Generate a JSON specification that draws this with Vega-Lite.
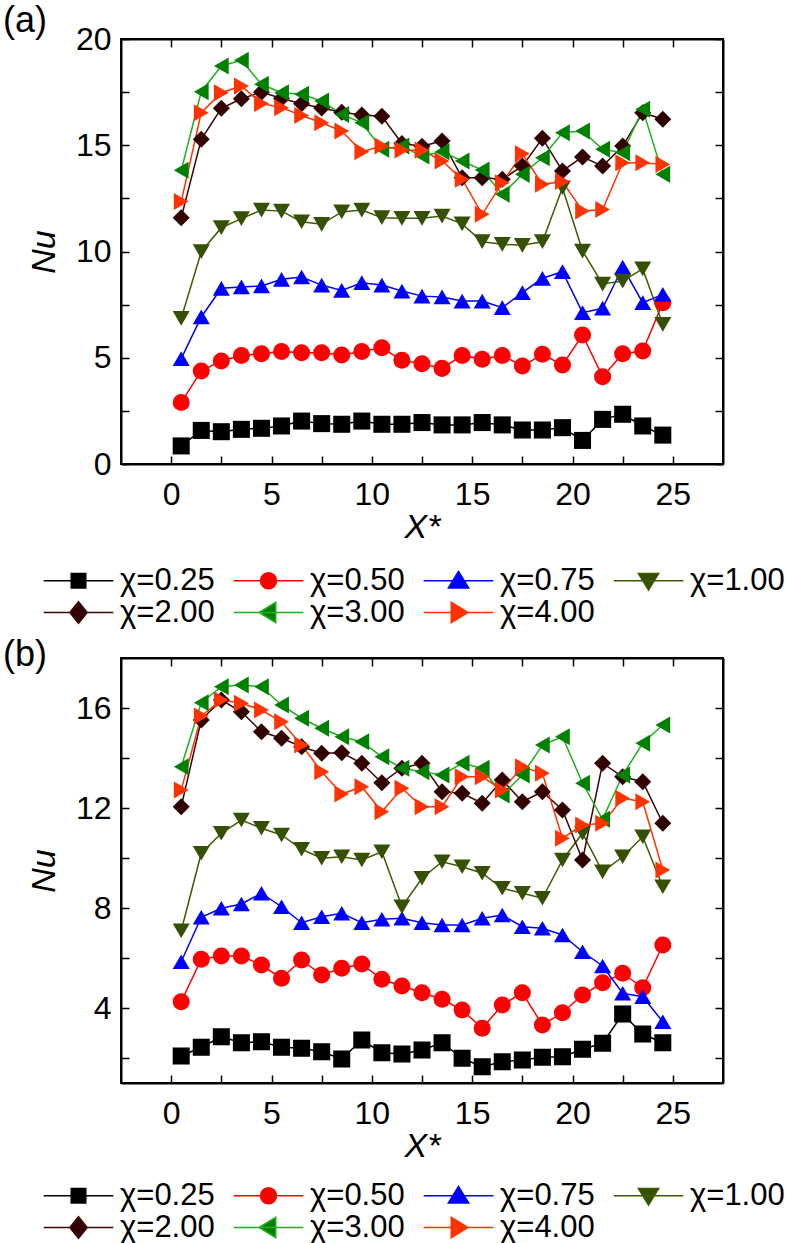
{
"$schema": "https://vega.github.io/schema/vega-lite/v6.json",
"background": "white",
"padding": {"left": 2, "top": 2, "right": 0, "bottom": 0},
"spacing": 7,
"config": {"view": {"stroke": "black", "strokeWidth": 2}, "font": "Liberation Sans"},
"datasets": {
"a": [
{"chi":"0.25","x":0.5,"nu":0.85},{"chi":"0.25","x":1.5,"nu":1.58},{"chi":"0.25","x":2.5,"nu":1.52},{"chi":"0.25","x":3.5,"nu":1.63},{"chi":"0.25","x":4.5,"nu":1.68},{"chi":"0.25","x":5.5,"nu":1.79},{"chi":"0.25","x":6.5,"nu":2.02},{"chi":"0.25","x":7.5,"nu":1.90},{"chi":"0.25","x":8.5,"nu":1.87},{"chi":"0.25","x":9.5,"nu":2.02},{"chi":"0.25","x":10.5,"nu":1.87},{"chi":"0.25","x":11.5,"nu":1.87},{"chi":"0.25","x":12.5,"nu":1.95},{"chi":"0.25","x":13.5,"nu":1.84},{"chi":"0.25","x":14.5,"nu":1.84},{"chi":"0.25","x":15.5,"nu":1.95},{"chi":"0.25","x":16.5,"nu":1.84},{"chi":"0.25","x":17.5,"nu":1.60},{"chi":"0.25","x":18.5,"nu":1.60},{"chi":"0.25","x":19.5,"nu":1.71},{"chi":"0.25","x":20.5,"nu":1.11},{"chi":"0.25","x":21.5,"nu":2.10},{"chi":"0.25","x":22.5,"nu":2.34},{"chi":"0.25","x":23.5,"nu":1.79},{"chi":"0.25","x":24.5,"nu":1.36},
{"chi":"0.50","x":0.5,"nu":2.89},{"chi":"0.50","x":1.5,"nu":4.38},{"chi":"0.50","x":2.5,"nu":4.85},{"chi":"0.50","x":3.5,"nu":5.11},{"chi":"0.50","x":4.5,"nu":5.19},{"chi":"0.50","x":5.5,"nu":5.29},{"chi":"0.50","x":6.5,"nu":5.24},{"chi":"0.50","x":7.5,"nu":5.24},{"chi":"0.50","x":8.5,"nu":5.13},{"chi":"0.50","x":9.5,"nu":5.29},{"chi":"0.50","x":10.5,"nu":5.47},{"chi":"0.50","x":11.5,"nu":4.88},{"chi":"0.50","x":12.5,"nu":4.72},{"chi":"0.50","x":13.5,"nu":4.50},{"chi":"0.50","x":14.5,"nu":5.11},{"chi":"0.50","x":15.5,"nu":4.93},{"chi":"0.50","x":16.5,"nu":5.11},{"chi":"0.50","x":17.5,"nu":4.61},{"chi":"0.50","x":18.5,"nu":5.16},{"chi":"0.50","x":19.5,"nu":4.66},{"chi":"0.50","x":20.5,"nu":6.07},{"chi":"0.50","x":21.5,"nu":4.11},{"chi":"0.50","x":22.5,"nu":5.19},{"chi":"0.50","x":23.5,"nu":5.32},{"chi":"0.50","x":24.5,"nu":7.59},
{"chi":"0.75","x":0.5,"nu":4.96},{"chi":"0.75","x":1.5,"nu":6.92},{"chi":"0.75","x":2.5,"nu":8.27},{"chi":"0.75","x":3.5,"nu":8.33},{"chi":"0.75","x":4.5,"nu":8.38},{"chi":"0.75","x":5.5,"nu":8.69},{"chi":"0.75","x":6.5,"nu":8.80},{"chi":"0.75","x":7.5,"nu":8.42},{"chi":"0.75","x":8.5,"nu":8.17},{"chi":"0.75","x":9.5,"nu":8.53},{"chi":"0.75","x":10.5,"nu":8.42},{"chi":"0.75","x":11.5,"nu":8.14},{"chi":"0.75","x":12.5,"nu":7.90},{"chi":"0.75","x":13.5,"nu":7.86},{"chi":"0.75","x":14.5,"nu":7.67},{"chi":"0.75","x":15.5,"nu":7.67},{"chi":"0.75","x":16.5,"nu":7.36},{"chi":"0.75","x":17.5,"nu":8.06},{"chi":"0.75","x":18.5,"nu":8.74},{"chi":"0.75","x":19.5,"nu":9.05},{"chi":"0.75","x":20.5,"nu":7.12},{"chi":"0.75","x":21.5,"nu":7.33},{"chi":"0.75","x":22.5,"nu":9.27},{"chi":"0.75","x":23.5,"nu":7.59},{"chi":"0.75","x":24.5,"nu":7.98},
{"chi":"1.00","x":0.5,"nu":6.85},{"chi":"1.00","x":1.5,"nu":9.99},{"chi":"1.00","x":2.5,"nu":11.12},{"chi":"1.00","x":3.5,"nu":11.55},{"chi":"1.00","x":4.5,"nu":11.95},{"chi":"1.00","x":5.5,"nu":11.90},{"chi":"1.00","x":6.5,"nu":11.40},{"chi":"1.00","x":7.5,"nu":11.28},{"chi":"1.00","x":8.5,"nu":11.86},{"chi":"1.00","x":9.5,"nu":11.95},{"chi":"1.00","x":10.5,"nu":11.59},{"chi":"1.00","x":11.5,"nu":11.56},{"chi":"1.00","x":12.5,"nu":11.56},{"chi":"1.00","x":13.5,"nu":11.67},{"chi":"1.00","x":14.5,"nu":11.30},{"chi":"1.00","x":15.5,"nu":10.46},{"chi":"1.00","x":16.5,"nu":10.34},{"chi":"1.00","x":17.5,"nu":10.29},{"chi":"1.00","x":18.5,"nu":10.46},{"chi":"1.00","x":19.5,"nu":13.00},{"chi":"1.00","x":20.5,"nu":10.02},{"chi":"1.00","x":21.5,"nu":8.47},{"chi":"1.00","x":22.5,"nu":8.61},{"chi":"1.00","x":23.5,"nu":9.18},{"chi":"1.00","x":24.5,"nu":6.57},
{"chi":"2.00","x":0.5,"nu":11.59},{"chi":"2.00","x":1.5,"nu":15.28},{"chi":"2.00","x":2.5,"nu":16.74},{"chi":"2.00","x":3.5,"nu":17.19},{"chi":"2.00","x":4.5,"nu":17.50},{"chi":"2.00","x":5.5,"nu":17.20},{"chi":"2.00","x":6.5,"nu":16.95},{"chi":"2.00","x":7.5,"nu":16.75},{"chi":"2.00","x":8.5,"nu":16.55},{"chi":"2.00","x":9.5,"nu":16.42},{"chi":"2.00","x":10.5,"nu":16.36},{"chi":"2.00","x":11.5,"nu":15.08},{"chi":"2.00","x":12.5,"nu":14.95},{"chi":"2.00","x":13.5,"nu":15.20},{"chi":"2.00","x":14.5,"nu":13.47},{"chi":"2.00","x":15.5,"nu":13.47},{"chi":"2.00","x":16.5,"nu":13.40},{"chi":"2.00","x":17.5,"nu":14.02},{"chi":"2.00","x":18.5,"nu":15.33},{"chi":"2.00","x":19.5,"nu":13.79},{"chi":"2.00","x":20.5,"nu":14.45},{"chi":"2.00","x":21.5,"nu":14.02},{"chi":"2.00","x":22.5,"nu":14.96},{"chi":"2.00","x":23.5,"nu":16.53},{"chi":"2.00","x":24.5,"nu":16.22},
{"chi":"3.00","x":0.5,"nu":13.82},{"chi":"3.00","x":1.5,"nu":17.52},{"chi":"3.00","x":2.5,"nu":18.73},{"chi":"3.00","x":3.5,"nu":19.00},{"chi":"3.00","x":4.5,"nu":17.87},{"chi":"3.00","x":5.5,"nu":17.47},{"chi":"3.00","x":6.5,"nu":17.40},{"chi":"3.00","x":7.5,"nu":17.08},{"chi":"3.00","x":8.5,"nu":16.45},{"chi":"3.00","x":9.5,"nu":16.06},{"chi":"3.00","x":10.5,"nu":14.81},{"chi":"3.00","x":11.5,"nu":14.96},{"chi":"3.00","x":12.5,"nu":14.49},{"chi":"3.00","x":13.5,"nu":14.70},{"chi":"3.00","x":14.5,"nu":14.26},{"chi":"3.00","x":15.5,"nu":13.83},{"chi":"3.00","x":16.5,"nu":12.69},{"chi":"3.00","x":17.5,"nu":13.63},{"chi":"3.00","x":18.5,"nu":14.41},{"chi":"3.00","x":19.5,"nu":15.59},{"chi":"3.00","x":20.5,"nu":15.67},{"chi":"3.00","x":21.5,"nu":14.81},{"chi":"3.00","x":22.5,"nu":14.65},{"chi":"3.00","x":23.5,"nu":16.69},{"chi":"3.00","x":24.5,"nu":13.63},
{"chi":"4.00","x":0.5,"nu":12.35},{"chi":"4.00","x":1.5,"nu":16.53},{"chi":"4.00","x":2.5,"nu":17.47},{"chi":"4.00","x":3.5,"nu":17.79},{"chi":"4.00","x":4.5,"nu":16.96},{"chi":"4.00","x":5.5,"nu":16.77},{"chi":"4.00","x":6.5,"nu":16.40},{"chi":"4.00","x":7.5,"nu":16.06},{"chi":"4.00","x":8.5,"nu":15.67},{"chi":"4.00","x":9.5,"nu":14.70},{"chi":"4.00","x":10.5,"nu":14.96},{"chi":"4.00","x":11.5,"nu":14.78},{"chi":"4.00","x":12.5,"nu":14.77},{"chi":"4.00","x":13.5,"nu":14.26},{"chi":"4.00","x":14.5,"nu":13.40},{"chi":"4.00","x":15.5,"nu":11.75},{"chi":"4.00","x":16.5,"nu":13.24},{"chi":"4.00","x":17.5,"nu":14.60},{"chi":"4.00","x":18.5,"nu":13.16},{"chi":"4.00","x":19.5,"nu":13.29},{"chi":"4.00","x":20.5,"nu":11.91},{"chi":"4.00","x":21.5,"nu":11.98},{"chi":"4.00","x":22.5,"nu":14.18},{"chi":"4.00","x":23.5,"nu":14.18},{"chi":"4.00","x":24.5,"nu":14.10}
],
"b": [
{"chi":"0.25","x":0.5,"nu":2.08},{"chi":"0.25","x":1.5,"nu":2.43},{"chi":"0.25","x":2.5,"nu":2.85},{"chi":"0.25","x":3.5,"nu":2.61},{"chi":"0.25","x":4.5,"nu":2.65},{"chi":"0.25","x":5.5,"nu":2.43},{"chi":"0.25","x":6.5,"nu":2.39},{"chi":"0.25","x":7.5,"nu":2.25},{"chi":"0.25","x":8.5,"nu":1.96},{"chi":"0.25","x":9.5,"nu":2.72},{"chi":"0.25","x":10.5,"nu":2.21},{"chi":"0.25","x":11.5,"nu":2.16},{"chi":"0.25","x":12.5,"nu":2.32},{"chi":"0.25","x":13.5,"nu":2.61},{"chi":"0.25","x":14.5,"nu":1.99},{"chi":"0.25","x":15.5,"nu":1.65},{"chi":"0.25","x":16.5,"nu":1.85},{"chi":"0.25","x":17.5,"nu":1.92},{"chi":"0.25","x":18.5,"nu":2.03},{"chi":"0.25","x":19.5,"nu":2.05},{"chi":"0.25","x":20.5,"nu":2.35},{"chi":"0.25","x":21.5,"nu":2.59},{"chi":"0.25","x":22.5,"nu":3.76},{"chi":"0.25","x":23.5,"nu":2.96},{"chi":"0.25","x":24.5,"nu":2.61},
{"chi":"0.50","x":0.5,"nu":4.25},{"chi":"0.50","x":1.5,"nu":5.95},{"chi":"0.50","x":2.5,"nu":6.08},{"chi":"0.50","x":3.5,"nu":6.08},{"chi":"0.50","x":4.5,"nu":5.72},{"chi":"0.50","x":5.5,"nu":5.19},{"chi":"0.50","x":6.5,"nu":5.92},{"chi":"0.50","x":7.5,"nu":5.32},{"chi":"0.50","x":8.5,"nu":5.59},{"chi":"0.50","x":9.5,"nu":5.76},{"chi":"0.50","x":10.5,"nu":5.15},{"chi":"0.50","x":11.5,"nu":4.88},{"chi":"0.50","x":12.5,"nu":4.61},{"chi":"0.50","x":13.5,"nu":4.35},{"chi":"0.50","x":14.5,"nu":3.92},{"chi":"0.50","x":15.5,"nu":3.19},{"chi":"0.50","x":16.5,"nu":4.12},{"chi":"0.50","x":17.5,"nu":4.61},{"chi":"0.50","x":18.5,"nu":3.32},{"chi":"0.50","x":19.5,"nu":3.81},{"chi":"0.50","x":20.5,"nu":4.52},{"chi":"0.50","x":21.5,"nu":5.01},{"chi":"0.50","x":22.5,"nu":5.39},{"chi":"0.50","x":23.5,"nu":4.81},{"chi":"0.50","x":24.5,"nu":6.52},
{"chi":"0.75","x":0.5,"nu":5.85},{"chi":"0.75","x":1.5,"nu":7.63},{"chi":"0.75","x":2.5,"nu":7.99},{"chi":"0.75","x":3.5,"nu":8.16},{"chi":"0.75","x":4.5,"nu":8.59},{"chi":"0.75","x":5.5,"nu":8.05},{"chi":"0.75","x":6.5,"nu":7.41},{"chi":"0.75","x":7.5,"nu":7.65},{"chi":"0.75","x":8.5,"nu":7.79},{"chi":"0.75","x":9.5,"nu":7.41},{"chi":"0.75","x":10.5,"nu":7.55},{"chi":"0.75","x":11.5,"nu":7.59},{"chi":"0.75","x":12.5,"nu":7.41},{"chi":"0.75","x":13.5,"nu":7.32},{"chi":"0.75","x":14.5,"nu":7.32},{"chi":"0.75","x":15.5,"nu":7.59},{"chi":"0.75","x":16.5,"nu":7.72},{"chi":"0.75","x":17.5,"nu":7.25},{"chi":"0.75","x":18.5,"nu":7.19},{"chi":"0.75","x":19.5,"nu":6.92},{"chi":"0.75","x":20.5,"nu":6.25},{"chi":"0.75","x":21.5,"nu":5.68},{"chi":"0.75","x":22.5,"nu":4.59},{"chi":"0.75","x":23.5,"nu":4.45},{"chi":"0.75","x":24.5,"nu":3.45},
{"chi":"1.00","x":0.5,"nu":7.09},{"chi":"1.00","x":1.5,"nu":10.19},{"chi":"1.00","x":2.5,"nu":10.99},{"chi":"1.00","x":3.5,"nu":11.52},{"chi":"1.00","x":4.5,"nu":11.19},{"chi":"1.00","x":5.5,"nu":10.92},{"chi":"1.00","x":6.5,"nu":10.35},{"chi":"1.00","x":7.5,"nu":9.99},{"chi":"1.00","x":8.5,"nu":10.05},{"chi":"1.00","x":9.5,"nu":9.92},{"chi":"1.00","x":10.5,"nu":10.25},{"chi":"1.00","x":11.5,"nu":8.05},{"chi":"1.00","x":12.5,"nu":9.19},{"chi":"1.00","x":13.5,"nu":9.85},{"chi":"1.00","x":14.5,"nu":9.65},{"chi":"1.00","x":15.5,"nu":9.39},{"chi":"1.00","x":16.5,"nu":8.79},{"chi":"1.00","x":17.5,"nu":8.59},{"chi":"1.00","x":18.5,"nu":8.39},{"chi":"1.00","x":19.5,"nu":9.92},{"chi":"1.00","x":20.5,"nu":10.99},{"chi":"1.00","x":21.5,"nu":9.45},{"chi":"1.00","x":22.5,"nu":10.05},{"chi":"1.00","x":23.5,"nu":10.85},{"chi":"1.00","x":24.5,"nu":8.85},
{"chi":"2.00","x":0.5,"nu":12.05},{"chi":"2.00","x":1.5,"nu":15.52},{"chi":"2.00","x":2.5,"nu":16.32},{"chi":"2.00","x":3.5,"nu":15.85},{"chi":"2.00","x":4.5,"nu":15.05},{"chi":"2.00","x":5.5,"nu":14.79},{"chi":"2.00","x":6.5,"nu":14.45},{"chi":"2.00","x":7.5,"nu":14.19},{"chi":"2.00","x":8.5,"nu":14.21},{"chi":"2.00","x":9.5,"nu":13.79},{"chi":"2.00","x":10.5,"nu":13.01},{"chi":"2.00","x":11.5,"nu":13.59},{"chi":"2.00","x":12.5,"nu":13.79},{"chi":"2.00","x":13.5,"nu":12.65},{"chi":"2.00","x":14.5,"nu":12.59},{"chi":"2.00","x":15.5,"nu":12.19},{"chi":"2.00","x":16.5,"nu":13.12},{"chi":"2.00","x":17.5,"nu":12.25},{"chi":"2.00","x":18.5,"nu":12.65},{"chi":"2.00","x":19.5,"nu":11.92},{"chi":"2.00","x":20.5,"nu":9.92},{"chi":"2.00","x":21.5,"nu":13.79},{"chi":"2.00","x":22.5,"nu":13.25},{"chi":"2.00","x":23.5,"nu":13.05},{"chi":"2.00","x":24.5,"nu":11.39},
{"chi":"3.00","x":0.5,"nu":13.65},{"chi":"3.00","x":1.5,"nu":16.21},{"chi":"3.00","x":2.5,"nu":16.85},{"chi":"3.00","x":3.5,"nu":16.92},{"chi":"3.00","x":4.5,"nu":16.85},{"chi":"3.00","x":5.5,"nu":16.12},{"chi":"3.00","x":6.5,"nu":15.59},{"chi":"3.00","x":7.5,"nu":15.19},{"chi":"3.00","x":8.5,"nu":14.85},{"chi":"3.00","x":9.5,"nu":14.65},{"chi":"3.00","x":10.5,"nu":14.05},{"chi":"3.00","x":11.5,"nu":13.59},{"chi":"3.00","x":12.5,"nu":13.45},{"chi":"3.00","x":13.5,"nu":13.32},{"chi":"3.00","x":14.5,"nu":13.79},{"chi":"3.00","x":15.5,"nu":13.59},{"chi":"3.00","x":16.5,"nu":12.52},{"chi":"3.00","x":17.5,"nu":13.32},{"chi":"3.00","x":18.5,"nu":14.52},{"chi":"3.00","x":19.5,"nu":14.85},{"chi":"3.00","x":20.5,"nu":12.99},{"chi":"3.00","x":21.5,"nu":11.55},{"chi":"3.00","x":22.5,"nu":13.32},{"chi":"3.00","x":23.5,"nu":14.59},{"chi":"3.00","x":24.5,"nu":15.32},
{"chi":"4.00","x":0.5,"nu":12.72},{"chi":"4.00","x":1.5,"nu":15.68},{"chi":"4.00","x":2.5,"nu":16.32},{"chi":"4.00","x":3.5,"nu":16.19},{"chi":"4.00","x":4.5,"nu":15.92},{"chi":"4.00","x":5.5,"nu":15.45},{"chi":"4.00","x":6.5,"nu":14.52},{"chi":"4.00","x":7.5,"nu":13.45},{"chi":"4.00","x":8.5,"nu":12.56},{"chi":"4.00","x":9.5,"nu":12.85},{"chi":"4.00","x":10.5,"nu":11.85},{"chi":"4.00","x":11.5,"nu":12.79},{"chi":"4.00","x":12.5,"nu":12.05},{"chi":"4.00","x":13.5,"nu":12.05},{"chi":"4.00","x":14.5,"nu":13.25},{"chi":"4.00","x":15.5,"nu":13.25},{"chi":"4.00","x":16.5,"nu":12.72},{"chi":"4.00","x":17.5,"nu":13.65},{"chi":"4.00","x":18.5,"nu":13.39},{"chi":"4.00","x":19.5,"nu":10.79},{"chi":"4.00","x":20.5,"nu":11.32},{"chi":"4.00","x":21.5,"nu":11.39},{"chi":"4.00","x":22.5,"nu":12.39},{"chi":"4.00","x":23.5,"nu":12.25},{"chi":"4.00","x":24.5,"nu":9.52}
]
},
"vconcat": [
{
"title": {"text": "(a)", "anchor": "start", "frame": "group", "dx": -118, "offset": -17, "fontSize": 36, "font": "Liberation Sans", "fontWeight": "normal", "color": "black"},
"width": 602, "height": 425,
"data": {"name": "a"},
"layer": [
{"mark": {"type": "line", "strokeWidth": 1.5},
 "encoding": {
  "x": {"field": "x", "type": "quantitative", "scale": {"domain": [-2.5, 27.5], "nice": false, "zero": false},
        "axis": {"orient": "bottom", "values": [0,2.5,5,7.5,10,12.5,15,17.5,20,22.5,25], "labelExpr": "datum.value % 5 === 0 ? datum.label : ''", "tickSize": -8, "tickColor": "black", "tickWidth": 1.5, "domainColor": "black", "domainWidth": 2, "grid": false, "labelFont": "Liberation Sans", "labelFontSize": 32, "labelColor": "black", "labelPadding": 23, "labelFlush": false, "labelOverlap": false, "title": "X*", "titleFont": "Liberation Sans", "titleFontStyle": "italic", "titleFontWeight": "normal", "titleFontSize": 34, "titleColor": "black", "titlePadding": 0}},
  "y": {"field": "nu", "type": "quantitative", "scale": {"domain": [0, 20], "nice": false, "zero": false},
        "axis": {"orient": "left", "values": [0,2.5,5,7.5,10,12.5,15,17.5,20], "labelExpr": "datum.value % 5 === 0 ? datum.label : ''", "tickSize": -8, "tickColor": "black", "tickWidth": 1.5, "domainColor": "black", "domainWidth": 2, "grid": false, "labelFont": "Liberation Sans", "labelFontSize": 32, "labelColor": "black", "labelPadding": 18, "labelFlush": false, "labelOverlap": false, "title": "Nu", "titleFont": "Liberation Sans", "titleFontStyle": "italic", "titleFontWeight": "normal", "titleFontSize": 34, "titleColor": "black", "titlePadding": 14}},
  "color": {"field": "chi", "type": "nominal", "scale": {"domain": ["0.25","0.50","0.75","1.00","2.00","3.00","4.00"], "range": ["#000000","#ff0000","#0000ff","#3d5c00","#3a0505","#1fb01f","#ff3300"]}, "legend": null}
 }},
{"mark": {"type": "point", "filled": true, "size": 290, "opacity": 1},
 "encoding": {
  "x": {"field": "x", "type": "quantitative", "axis": {"orient": "top", "values": [0,2.5,5,7.5,10,12.5,15,17.5,20,22.5,25], "labels": false, "tickSize": -8, "tickColor": "black", "tickWidth": 1.5, "domainColor": "black", "domainWidth": 2, "grid": false, "title": null}},
  "y": {"field": "nu", "type": "quantitative", "axis": {"orient": "right", "values": [0,2.5,5,7.5,10,12.5,15,17.5,20], "labels": false, "tickSize": -8, "tickColor": "black", "tickWidth": 1.5, "domainColor": "black", "domainWidth": 2, "grid": false, "title": null}},
  "color": {"field": "chi", "type": "nominal", "scale": {"domain": ["0.25","0.50","0.75","1.00","2.00","3.00","4.00"], "range": ["#000000","#ff0000","#0000ff","#345000","#330000","#008000","#ff3300"]}, "legend": null},
  "shape": {"field": "chi", "type": "nominal", "scale": {"domain": ["0.25","0.50","0.75","1.00","2.00","3.00","4.00"], "range": ["square","circle","triangle-up","triangle-down","diamond","triangle-left","triangle-right"]}, "legend": null}
 }},
{"transform": [{"filter": "false"}],
 "mark": {"type": "point", "filled": true, "opacity": 1},
 "encoding": {
  "color": {"field": "chi", "type": "nominal", "scale": {"domain": ["0.25","0.50","0.75","1.00","2.00","3.00","4.00"], "range": ["#000000","#ff0000","#0000ff","#345000","#330000","#008000","#ff3300"]},
    "legend": {"orient": "none", "legendX": -58, "legendY": 526, "direction": "horizontal", "columns": 4, "title": null, "padding": 0, "symbolSize": 841, "symbolStrokeWidth": 1.5, "symbolOpacity": 1, "labelFont": "Liberation Sans", "labelFontSize": 31, "labelColor": "black", "labelOffset": 26, "labelLimit": 300, "columnPadding": 15, "rowPadding": 0, "labelExpr": "'χ=' + datum.label"}},
  "stroke": {"field": "chi", "type": "nominal", "scale": {"domain": ["0.25","0.50","0.75","1.00","2.00","3.00","4.00"], "range": ["#000000","#ff0000","#0000ff","#3d5c00","#3a0505","#1fb01f","#ff3300"]}},
  "shape": {"field": "chi", "type": "nominal", "scale": {"domain": ["0.25","0.50","0.75","1.00","2.00","3.00","4.00"], "range": ["M-2.4,0H2.4M-0.5,-0.5H0.5V0.5H-0.5Z","M-2.4,0H2.4M0.55,0A0.55,0.55 0 1,1 -0.55,0A0.55,0.55 0 1,1 0.55,0Z","M-2.4,0H2.4M0,-0.65L0.7,0.5H-0.7Z","M-2.4,0H2.4M0,0.65L0.7,-0.5H-0.7Z","M-2.4,0H2.4M0,-0.75L0.6,0L0,0.75L-0.6,0Z","M-2.4,0H2.4M-0.65,0L0.5,-0.7V0.7Z","M-2.4,0H2.4M0.65,0L-0.5,-0.7V0.7Z"]}}
 }}
],
"resolve": {"scale": {"color": "independent", "shape": "independent", "stroke": "independent"}, "axis": {"x": "independent", "y": "independent"}}
},
{
"title": {"text": "(b)", "anchor": "start", "frame": "group", "dx": -118, "offset": -17, "fontSize": 36, "font": "Liberation Sans", "fontWeight": "normal", "color": "black"},
"width": 602, "height": 425,
"data": {"name": "b"},
"layer": [
{"mark": {"type": "line", "strokeWidth": 1.5},
 "encoding": {
  "x": {"field": "x", "type": "quantitative", "scale": {"domain": [-2.5, 27.5], "nice": false, "zero": false},
        "axis": {"orient": "bottom", "values": [0,2.5,5,7.5,10,12.5,15,17.5,20,22.5,25], "labelExpr": "datum.value % 5 === 0 ? datum.label : ''", "tickSize": -8, "tickColor": "black", "tickWidth": 1.5, "domainColor": "black", "domainWidth": 2, "grid": false, "labelFont": "Liberation Sans", "labelFontSize": 32, "labelColor": "black", "labelPadding": 23, "labelFlush": false, "labelOverlap": false, "title": "X*", "titleFont": "Liberation Sans", "titleFontStyle": "italic", "titleFontWeight": "normal", "titleFontSize": 34, "titleColor": "black", "titlePadding": 0}},
  "y": {"field": "nu", "type": "quantitative", "scale": {"domain": [1, 18], "nice": false, "zero": false},
        "axis": {"orient": "left", "values": [2,4,6,8,10,12,14,16], "labelExpr": "datum.value % 4 === 0 ? datum.label : ''", "tickSize": -8, "tickColor": "black", "tickWidth": 1.5, "domainColor": "black", "domainWidth": 2, "grid": false, "labelFont": "Liberation Sans", "labelFontSize": 32, "labelColor": "black", "labelPadding": 18, "labelFlush": false, "labelOverlap": false, "title": "Nu", "titleFont": "Liberation Sans", "titleFontStyle": "italic", "titleFontWeight": "normal", "titleFontSize": 34, "titleColor": "black", "titlePadding": 14}},
  "color": {"field": "chi", "type": "nominal", "scale": {"domain": ["0.25","0.50","0.75","1.00","2.00","3.00","4.00"], "range": ["#000000","#ff0000","#0000ff","#3d5c00","#3a0505","#1fb01f","#ff3300"]}, "legend": null}
 }},
{"mark": {"type": "point", "filled": true, "size": 290, "opacity": 1},
 "encoding": {
  "x": {"field": "x", "type": "quantitative", "axis": {"orient": "top", "values": [0,2.5,5,7.5,10,12.5,15,17.5,20,22.5,25], "labels": false, "tickSize": -8, "tickColor": "black", "tickWidth": 1.5, "domainColor": "black", "domainWidth": 2, "grid": false, "title": null}},
  "y": {"field": "nu", "type": "quantitative", "axis": {"orient": "right", "values": [2,4,6,8,10,12,14,16], "labels": false, "tickSize": -8, "tickColor": "black", "tickWidth": 1.5, "domainColor": "black", "domainWidth": 2, "grid": false, "title": null}},
  "color": {"field": "chi", "type": "nominal", "scale": {"domain": ["0.25","0.50","0.75","1.00","2.00","3.00","4.00"], "range": ["#000000","#ff0000","#0000ff","#345000","#330000","#008000","#ff3300"]}, "legend": null},
  "shape": {"field": "chi", "type": "nominal", "scale": {"domain": ["0.25","0.50","0.75","1.00","2.00","3.00","4.00"], "range": ["square","circle","triangle-up","triangle-down","diamond","triangle-left","triangle-right"]}, "legend": null}
 }},
{"transform": [{"filter": "false"}],
 "mark": {"type": "point", "filled": true, "opacity": 1},
 "encoding": {
  "color": {"field": "chi", "type": "nominal", "scale": {"domain": ["0.25","0.50","0.75","1.00","2.00","3.00","4.00"], "range": ["#000000","#ff0000","#0000ff","#345000","#330000","#008000","#ff3300"]},
    "legend": {"orient": "none", "legendX": -58, "legendY": 522, "direction": "horizontal", "columns": 4, "title": null, "padding": 0, "symbolSize": 841, "symbolStrokeWidth": 1.5, "symbolOpacity": 1, "labelFont": "Liberation Sans", "labelFontSize": 31, "labelColor": "black", "labelOffset": 26, "labelLimit": 300, "columnPadding": 15, "rowPadding": 0, "labelExpr": "'χ=' + datum.label"}},
  "stroke": {"field": "chi", "type": "nominal", "scale": {"domain": ["0.25","0.50","0.75","1.00","2.00","3.00","4.00"], "range": ["#000000","#ff0000","#0000ff","#3d5c00","#3a0505","#1fb01f","#ff3300"]}},
  "shape": {"field": "chi", "type": "nominal", "scale": {"domain": ["0.25","0.50","0.75","1.00","2.00","3.00","4.00"], "range": ["M-2.4,0H2.4M-0.5,-0.5H0.5V0.5H-0.5Z","M-2.4,0H2.4M0.55,0A0.55,0.55 0 1,1 -0.55,0A0.55,0.55 0 1,1 0.55,0Z","M-2.4,0H2.4M0,-0.65L0.7,0.5H-0.7Z","M-2.4,0H2.4M0,0.65L0.7,-0.5H-0.7Z","M-2.4,0H2.4M0,-0.75L0.6,0L0,0.75L-0.6,0Z","M-2.4,0H2.4M-0.65,0L0.5,-0.7V0.7Z","M-2.4,0H2.4M0.65,0L-0.5,-0.7V0.7Z"]}}
 }}
],
"resolve": {"scale": {"color": "independent", "shape": "independent", "stroke": "independent"}, "axis": {"x": "independent", "y": "independent"}}
}
],
"resolve": {"scale": {"x": "independent", "y": "independent", "color": "independent", "shape": "independent", "stroke": "independent"}, "legend": {"color": "independent", "shape": "independent", "stroke": "independent"}}
}
